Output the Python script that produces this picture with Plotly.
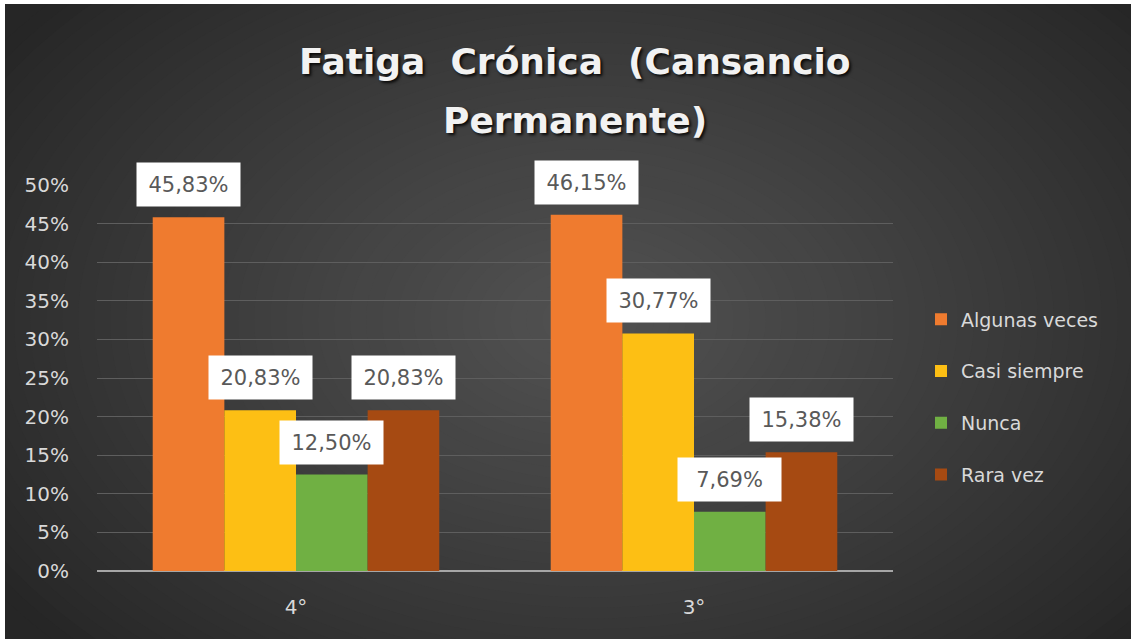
import plotly.graph_objects as go

categories = ["4°", "3°"]
series_names = ["Algunas veces", "Casi siempre", "Nunca", "Rara vez"]
algunas_veces = [0.4583, 0.4615]
casi_siempre = [0.2083, 0.3077]
nunca = [0.1250, 0.0769]
rara_vez = [0.2083, 0.1538]
y_tick_vals = [0, 0.05, 0.10, 0.15, 0.20, 0.25, 0.30, 0.35, 0.40, 0.45, 0.50]
y_tick_text = ["0%", "5%", "10%", "15%", "20%", "25%", "30%", "35%", "40%", "45%", "50%"]

series_values = [algunas_veces, casi_siempre, nunca, rara_vez]
colors = ["#EF7B2F", "#FDBF14", "#70B043", "#A64A12"]

FONT = "DejaVu Sans"
W, H = 1133, 639
L, R, T, B = 97, 240, 185, 68
PW = W - L - R
PH = H - T - B
BARGAP = 0.28

def px_to_paper_x(px):
    return (px - L) / PW

def px_to_paper_y(py):
    return (H - B - py) / PH

fig = go.Figure()
for name, vals, col in zip(series_names, series_values, colors):
    fig.add_trace(go.Bar(
        x=categories, y=vals, name=name, legendgroup=name,
        marker=dict(color=col, line=dict(width=0)),
        hoverinfo="skip",
    ))

# data label boxes
annotations = []
n = len(series_names)
bw = (1 - BARGAP) / n
for i, vals in enumerate(series_values):
    for c, v in enumerate(vals):
        xc = c - (1 - BARGAP) / 2 + bw * (i + 0.5)
        txt = f"{v*100:.2f}".replace(".", ",") + "%"
        annotations.append(dict(
            x=xc, y=v, xref="x", yref="y", text=txt, showarrow=False,
            yanchor="bottom", xanchor="center", yshift=10,
            bgcolor="#FFFFFF", borderpad=8, width=87, height=27,
            font=dict(family=FONT, size=21, color="#595959"),
        ))

# title lines
title_font = dict(family=FONT, size=36, color="#F2F2F2",
                  weight="bold", shadow="2px 2px 3px rgba(0,0,0,0.85)")
annotations.append(dict(
    x=px_to_paper_x(575), y=px_to_paper_y(62), xref="paper", yref="paper",
    text="Fatiga\u00a0 Crónica\u00a0 (Cansancio", showarrow=False,
    xanchor="center", yanchor="middle", font=title_font))
annotations.append(dict(
    x=px_to_paper_x(575), y=px_to_paper_y(120), xref="paper", yref="paper",
    text="Permanente)", showarrow=False,
    xanchor="center", yanchor="middle", font=title_font))

# background: white paper, dark panel with radial gradient
shapes = []
shapes.append(dict(type="rect", xref="paper", yref="paper", layer="below",
                   x0=px_to_paper_x(5), x1=px_to_paper_x(1131),
                   y0=px_to_paper_y(639), y1=px_to_paper_y(4),
                   fillcolor="#262626", line=dict(width=0)))

def lerp(c1, c2, t):
    a = [int(c1[k:k+2], 16) for k in (1, 3, 5)]
    b = [int(c2[k:k+2], 16) for k in (1, 3, 5)]
    return "#" + "".join(f"{round(a[j] + (b[j]-a[j])*t):02x}" for j in range(3))

N = 45
cx, cy = 590, 320
for k in range(N):
    t = 1 - k / N
    rx, ry = 720 * t, 480 * t
    col = lerp("#262626", "#525252", (1 - t) ** 0.9)
    shapes.append(dict(type="circle", xref="paper", yref="paper", layer="below",
                       x0=px_to_paper_x(cx - rx), x1=px_to_paper_x(cx + rx),
                       y0=px_to_paper_y(cy + ry), y1=px_to_paper_y(cy - ry),
                       fillcolor=col, line=dict(width=0)))
# white borders on top of gradient
shapes.append(dict(type="rect", xref="paper", yref="paper", layer="below",
                   x0=px_to_paper_x(-5), x1=px_to_paper_x(5),
                   y0=px_to_paper_y(650), y1=px_to_paper_y(-5),
                   fillcolor="#FFFFFF", line=dict(width=0)))
shapes.append(dict(type="rect", xref="paper", yref="paper", layer="below",
                   x0=px_to_paper_x(-5), x1=px_to_paper_x(1140),
                   y0=px_to_paper_y(4), y1=px_to_paper_y(-5),
                   fillcolor="#FFFFFF", line=dict(width=0)))
shapes.append(dict(type="rect", xref="paper", yref="paper", layer="below",
                   x0=px_to_paper_x(1131), x1=px_to_paper_x(1140),
                   y0=px_to_paper_y(650), y1=px_to_paper_y(-5),
                   fillcolor="#FFFFFF", line=dict(width=0)))

fig.update_layout(
    width=W, height=H,
    margin=dict(l=L, r=R, t=T, b=B, pad=0),
    paper_bgcolor="#FFFFFF",
    plot_bgcolor="rgba(0,0,0,0)",
    barmode="group", bargap=BARGAP, bargroupgap=0,
    showlegend=True,
    legend=dict(x=px_to_paper_x(921), y=px_to_paper_y(397), xanchor="left", yanchor="middle",
                font=dict(family=FONT, size=19, color="#D9D9D9"),
                bgcolor="rgba(0,0,0,0)", tracegroupgap=24, itemwidth=30),
    xaxis=dict(showgrid=False, showline=False, zeroline=False,
               tickfont=dict(family=FONT, size=20, color="#D9D9D9"),
               ticklabelstandoff=22, fixedrange=True),
    yaxis=dict(range=[0, 0.5], tickvals=y_tick_vals, ticktext=y_tick_text,
               showgrid=True, gridcolor="#5E5E5E", gridwidth=1,
               zeroline=True, zerolinecolor="#A6A6A6", zerolinewidth=2,
               showline=False,
               tickfont=dict(family=FONT, size=20, color="#D9D9D9"),
               ticklabelstandoff=27, fixedrange=True),
    annotations=annotations,
    shapes=shapes,
)

fig.write_html("out.html", config={"displayModeBar": False},
               post_script="document.body.style.margin='0px';")
